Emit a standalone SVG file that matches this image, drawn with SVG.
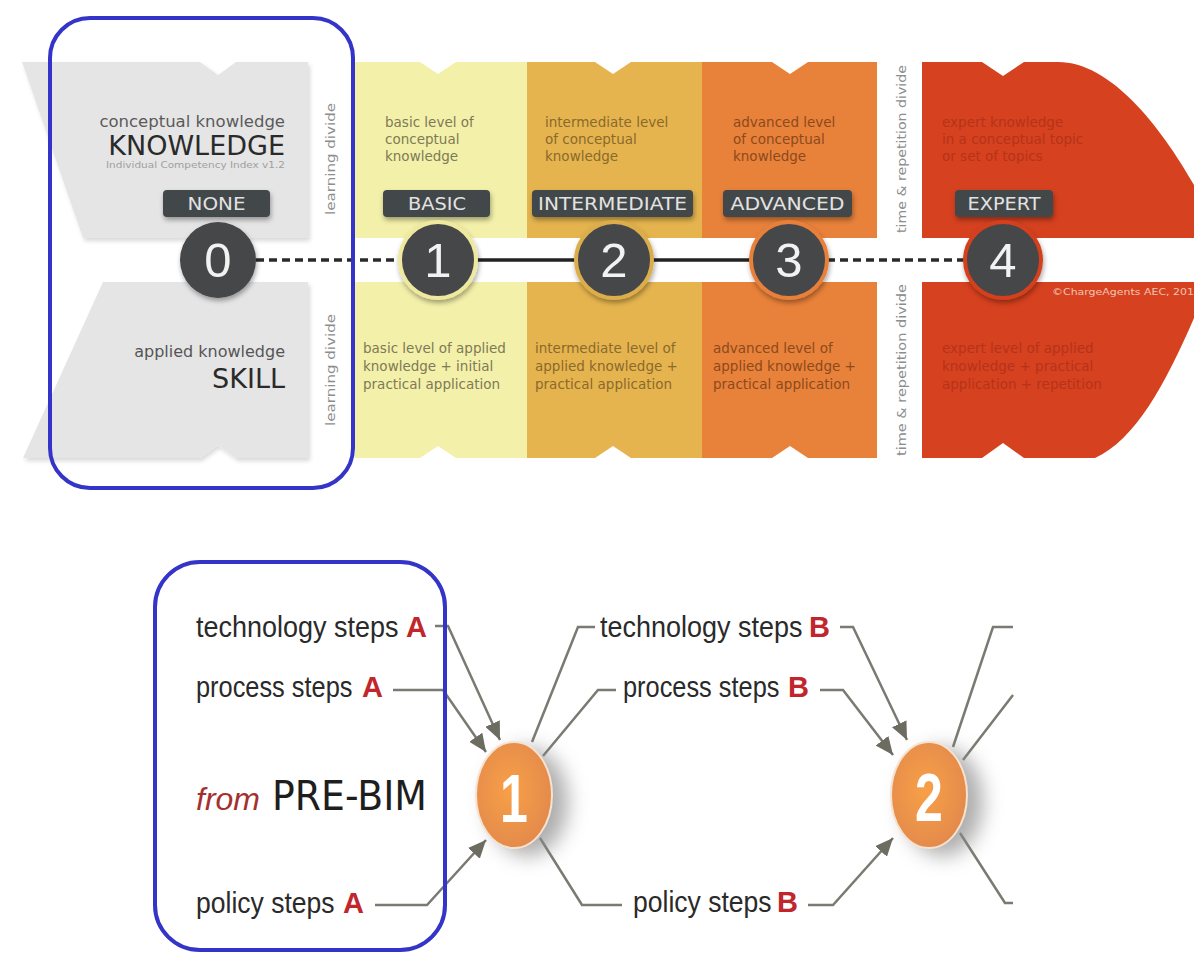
<svg xmlns="http://www.w3.org/2000/svg" width="1194" height="954" viewBox="0 0 1194 954">
<defs>
<style>
.dv{font-family:"DejaVu Sans","Liberation Sans",sans-serif;}
.desc{font-family:"DejaVu Sans","Liberation Sans",sans-serif;font-size:13.5px;}
.vert{font-family:"DejaVu Sans","Liberation Sans",sans-serif;font-size:12px;fill:#8d8d8d;}
.lbl{font-family:"DejaVu Sans","Liberation Sans",sans-serif;font-size:18px;fill:#e2e2e2;text-anchor:middle;}
.lblbox{fill:#42464a;}
.dig{font-family:"Liberation Sans",Arial,sans-serif;font-size:49px;fill:#f2f2f2;text-anchor:middle;}
.dark{fill:#45464a;}
.step{font-family:"Liberation Sans",Arial,sans-serif;font-size:29px;fill:#2a2a2a;}
.lt{font-family:"Liberation Sans",Arial,sans-serif;font-size:29px;font-weight:bold;fill:#c0262c;}
.conn{fill:none;stroke:#7a7a72;stroke-width:2.5;}
.frame{fill:none;stroke:#3434c8;stroke-width:4;}
.orb{fill:url(#og);stroke:#f6e2cf;stroke-width:2;}
.odig{font-family:"Liberation Sans",Arial,sans-serif;font-size:50px;font-weight:bold;fill:#ffffff;text-anchor:middle;}
</style>
<filter id="psh" x="-10%" y="-10%" width="130%" height="130%"><feDropShadow dx="2" dy="3" stdDeviation="2" flood-color="#000" flood-opacity="0.15"/></filter>
<filter id="blur" x="-50%" y="-50%" width="200%" height="200%"><feGaussianBlur stdDeviation="10"/></filter>
<filter id="csh" x="-30%" y="-30%" width="160%" height="160%"><feDropShadow dx="1" dy="3" stdDeviation="2.5" flood-color="#000" flood-opacity="0.35"/></filter>
<radialGradient id="og" cx="45%" cy="45%" r="60%"><stop offset="0" stop-color="#f8a047"/><stop offset="1" stop-color="#e2894c"/></radialGradient>
<marker id="ah" markerWidth="20" markerHeight="16" refX="18" refY="8" orient="auto" markerUnits="userSpaceOnUse"><path d="M0,0 L18,8 L0,16 Z" fill="#6c6c60"/></marker>
</defs>
<rect width="1194" height="954" fill="#ffffff"/>

<!-- top band panels -->
<g id="col-none">
<path d="M22,62 L200,62 L218,75 L236,62 L308,62 L308,238 L83,238 Z" fill="#e5e5e5" filter="url(#psh)"/>
<path d="M103,282 L308,282 L308,458 L236,458 L218,445 L200,458 L23,458 Z" fill="#e5e5e5" filter="url(#psh)"/>
<text class="dv" x="285" y="127" font-size="16.5" fill="#5a5a5a" text-anchor="end">conceptual knowledge</text>
<text class="dv" x="285" y="155" font-size="27" fill="#2a2a2a" text-anchor="end">KNOWLEDGE</text>
<text class="dv" x="285" y="168" font-size="8.5" fill="#a0a0a0" text-anchor="end" textLength="179" lengthAdjust="spacingAndGlyphs">Individual Competency Index v1.2</text>
<text class="dv" x="285" y="357" font-size="16" fill="#555" text-anchor="end">applied knowledge</text>
<text class="dv" x="285" y="388" font-size="27" fill="#2a2a2a" text-anchor="end">SKILL</text>
<text class="vert" transform="translate(335,159) rotate(-90)" text-anchor="middle" textLength="112" lengthAdjust="spacingAndGlyphs">learning divide</text>
<text class="vert" transform="translate(335,370) rotate(-90)" text-anchor="middle" textLength="112" lengthAdjust="spacingAndGlyphs">learning divide</text>
</g>

<g id="col-basic">
<path d="M355,62 L420,62 L438,74 L456,62 L527,62 L527,238 L355,238 Z" fill="#f3f0aa"/>
<path d="M355,282 L527,282 L527,458 L456,458 L438,446 L420,458 L355,458 Z" fill="#f3f0aa"/>
<g class="desc" fill="#7e7a55">
<text x="385" y="127">basic level of</text><text x="385" y="144">conceptual</text><text x="385" y="161">knowledge</text>
<text x="363" y="353">basic level of applied</text><text x="363" y="371">knowledge + initial</text><text x="363" y="389">practical application</text>
</g>
</g>

<g id="col-intermediate">
<path d="M527,62 L595,62 L613,74 L631,62 L702,62 L702,238 L527,238 Z" fill="#e5b44e"/>
<path d="M527,282 L702,282 L702,458 L631,458 L613,446 L595,458 L527,458 Z" fill="#e5b44e"/>
<g class="desc" fill="#8a6a2c">
<text x="545" y="127">intermediate level</text><text x="545" y="144">of conceptual</text><text x="545" y="161">knowledge</text>
<text x="535" y="353">intermediate level of</text><text x="535" y="371">applied knowledge +</text><text x="535" y="389">practical application</text>
</g>
</g>

<g id="col-advanced">
<path d="M702,62 L772,62 L790,74 L808,62 L877,62 L877,238 L702,238 Z" fill="#e8813a"/>
<path d="M702,282 L877,282 L877,458 L808,458 L790,446 L772,458 L702,458 Z" fill="#e8813a"/>
<g class="desc" fill="#8c4a1c">
<text x="733" y="127">advanced level</text><text x="733" y="144">of conceptual</text><text x="733" y="161">knowledge</text>
<text x="713" y="353">advanced level of</text><text x="713" y="371">applied knowledge +</text><text x="713" y="389">practical application</text>
</g>
<text class="vert" transform="translate(906,149) rotate(-90)" text-anchor="middle" textLength="168" lengthAdjust="spacingAndGlyphs">time &amp; repetition  divide</text>
<text class="vert" transform="translate(906,370) rotate(-90)" text-anchor="middle" textLength="172" lengthAdjust="spacingAndGlyphs">time &amp; repetition  divide</text>
</g>

<g id="col-expert">
<path d="M922,62 L982,62 L1003,76 L1024,62 L1058,62 C1110,62 1160,125 1194,185 L1194,238 L922,238 Z" fill="#d6411f"/>
<path d="M922,282 L1194,282 L1194,318 C1165,385 1135,440 1095,458 L1024,458 L1003,443 L982,458 L922,458 Z" fill="#d6411f"/>
<g class="desc" fill="#b5331a">
<text x="942" y="127">expert knowledge</text><text x="942" y="144">in a conceptual topic</text><text x="942" y="161">or set of topics</text>
<text x="942" y="353">expert level of applied</text><text x="942" y="371">knowledge + practical</text><text x="942" y="389">application + repetition</text>
</g>
<text class="dv" x="1052" y="295" font-size="8" fill="#f2c4b4" textLength="142" lengthAdjust="spacingAndGlyphs">©ChargeAgents AEC, 201</text>
</g>

<!-- timeline connectors -->
<g id="timeline">
<line x1="256" y1="260" x2="400" y2="260" stroke="#2a2a2a" stroke-width="3.5" stroke-dasharray="8 5"/>
<line x1="475" y1="260" x2="577" y2="260" stroke="#222" stroke-width="3.5"/>
<line x1="651" y1="260" x2="752" y2="260" stroke="#222" stroke-width="3.5"/>
<line x1="827" y1="260" x2="965" y2="260" stroke="#2a2a2a" stroke-width="3.5" stroke-dasharray="8 5"/>
</g>

<g id="level-0">
<rect class="lblbox" x="163" y="190" width="107" height="27" rx="4" filter="url(#csh)"/>
<text class="lbl" x="216.5" y="210" textLength="58" lengthAdjust="spacingAndGlyphs">NONE</text>
<circle class="dark" cx="218" cy="260" r="38" filter="url(#csh)"/>
<text class="dig" x="218" y="277">0</text>
</g>
<g id="level-1">
<rect class="lblbox" x="383" y="190" width="107" height="27" rx="4" filter="url(#csh)"/>
<text class="lbl" x="437" y="210" textLength="58" lengthAdjust="spacingAndGlyphs">BASIC</text>
<circle class="dark" cx="438" cy="260" r="38" stroke="#efe9a0" stroke-width="4" filter="url(#csh)"/>
<text class="dig" x="438" y="277">1</text>
</g>
<g id="level-2">
<rect class="lblbox" x="532" y="190" width="161" height="27" rx="4" filter="url(#csh)"/>
<text class="lbl" x="612.5" y="210" textLength="149" lengthAdjust="spacingAndGlyphs">INTERMEDIATE</text>
<circle class="dark" cx="614" cy="260" r="38" stroke="#dcae4c" stroke-width="4" filter="url(#csh)"/>
<text class="dig" x="614" y="277">2</text>
</g>
<g id="level-3">
<rect class="lblbox" x="723" y="190" width="129" height="27" rx="4" filter="url(#csh)"/>
<text class="lbl" x="787.5" y="210" textLength="114" lengthAdjust="spacingAndGlyphs">ADVANCED</text>
<circle class="dark" cx="789" cy="260" r="38" stroke="#e8803a" stroke-width="4" filter="url(#csh)"/>
<text class="dig" x="789" y="277">3</text>
</g>
<g id="level-4">
<rect class="lblbox" x="955" y="190" width="98" height="27" rx="4" filter="url(#csh)"/>
<text class="lbl" x="1004" y="210" textLength="73" lengthAdjust="spacingAndGlyphs">EXPERT</text>
<circle class="dark" cx="1003" cy="260" r="38" stroke="#d4401f" stroke-width="4" filter="url(#csh)"/>
<text class="dig" x="1003" y="277">4</text>
</g>

<g id="frame-top">
<rect class="frame" x="50" y="18" width="303" height="470" rx="40"/>
</g>

<!-- bottom: connectors -->
<g id="connectors">
<path class="conn" d="M435,626 L448,626 L500,740" marker-end="url(#ah)"/>
<path class="conn" d="M393,690 L443,690 L486,752" marker-end="url(#ah)"/>
<path class="conn" d="M375,905 L427,905 L486,840" marker-end="url(#ah)"/>
<path class="conn" d="M532,742 L578,627 L595,627"/>
<path class="conn" d="M543,756 L598,690 L616,690"/>
<path class="conn" d="M540,838 L582,905 L622,905"/>
<path class="conn" d="M840,627 L853,627 L907,740" marker-end="url(#ah)"/>
<path class="conn" d="M820,690 L843,690 L893,755" marker-end="url(#ah)"/>
<path class="conn" d="M808,905 L833,905 L893,838" marker-end="url(#ah)"/>
<path class="conn" d="M953,747 L993,627 L1013,627"/>
<path class="conn" d="M963,760 L1013,695"/>
<path class="conn" d="M960,833 L1005,903 L1013,903"/>
</g>

<g id="label-tech-a"><text class="step" transform="translate(196,637) scale(0.93,1)">technology steps</text><text class="lt" x="406" y="637">A</text></g>
<g id="label-process-a"><text class="step" transform="translate(196,697) scale(0.875,1)">process steps</text><text class="lt" x="362" y="697">A</text></g>
<g id="label-prebim"><text x="196" y="810" font-family="'Liberation Sans',Arial,sans-serif" font-style="italic" font-size="32" fill="#a53030">from</text><text x="272" y="810" font-family="'DejaVu Sans','Liberation Sans',sans-serif" font-size="40" fill="#1e1e1e" textLength="155" lengthAdjust="spacingAndGlyphs">PRE-BIM</text></g>
<g id="label-policy-a"><text class="step" transform="translate(196,913) scale(0.915,1)">policy steps</text><text class="lt" x="343" y="913">A</text></g>

<g id="label-tech-b"><text class="step" transform="translate(600,637) scale(0.93,1)">technology steps</text><text class="lt" x="809" y="637">B</text></g>
<g id="label-process-b"><text class="step" transform="translate(623,697) scale(0.875,1)">process steps</text><text class="lt" x="788" y="697">B</text></g>
<g id="label-policy-b"><text class="step" transform="translate(633,912) scale(0.915,1)">policy steps</text><text class="lt" x="777" y="912">B</text></g>

<g id="node-1">
<ellipse cx="528" cy="802" rx="40" ry="54" fill="#8a8a8a" opacity="0.7" filter="url(#blur)"/>
<ellipse class="orb" cx="514" cy="795" rx="38" ry="53"/>
<text class="odig" transform="translate(514,822) scale(1,1.38)">1</text>
</g>
<g id="node-2">
<ellipse cx="943" cy="802" rx="40" ry="54" fill="#8a8a8a" opacity="0.7" filter="url(#blur)"/>
<ellipse class="orb" cx="929" cy="795" rx="38" ry="53"/>
<text class="odig" transform="translate(929,821) scale(1,1.38)">2</text>
</g>

<g id="frame-bottom">
<rect class="frame" x="155" y="562" width="290" height="388" rx="45"/>
</g>
</svg>
